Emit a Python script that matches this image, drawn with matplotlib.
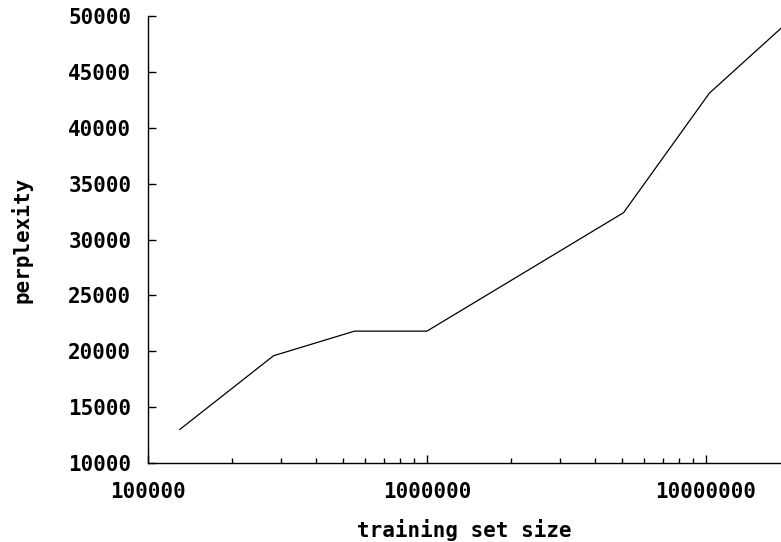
import matplotlib
matplotlib.use('Agg')
import matplotlib.pyplot as plt
from matplotlib.ticker import LogLocator, NullFormatter, FixedLocator

# data
sizes = [130000, 282000, 550000, 1000000, 5070000, 10300000, 18600000]
perplexity = [13000, 19600, 21800, 21800, 32400, 43100, 48900]
xticks = [100000, 1000000, 10000000]
yticks = [10000, 15000, 20000, 25000, 30000, 35000, 40000, 45000, 50000]

plt.rcParams['font.family'] = ['DejaVu Sans Mono']
plt.rcParams['font.weight'] = 'bold'

fig = plt.figure(figsize=(7.81, 5.42), dpi=100)
ax = fig.add_axes([148 / 781, 79 / 542, 1 - 148 / 781, 447 / 542])

ax.plot(sizes, perplexity, color='black', linewidth=0.9, clip_on=False)

ax.set_xscale('log')
ax.set_xlim(100000, sizes[-1])
ax.set_ylim(10000, 50000)

ax.xaxis.set_major_locator(FixedLocator(xticks))
ax.set_xticklabels([str(t) for t in xticks])
ax.xaxis.set_minor_locator(LogLocator(base=10, subs=range(2, 10)))
ax.xaxis.set_minor_formatter(NullFormatter())
ax.set_yticks(yticks)
ax.set_yticklabels([str(t) for t in yticks])

for s in ['top', 'right']:
    ax.spines[s].set_visible(False)
for s in ['left', 'bottom']:
    ax.spines[s].set_linewidth(1.0)

ax.tick_params(which='major', direction='in', length=6, width=1.0,
               labelsize=15, pad=12)
ax.tick_params(axis='x', which='major', pad=14)
ax.tick_params(which='minor', direction='in', length=3.5, width=1.0)

ax.set_xlabel('training set size', fontsize=15, fontweight='bold', labelpad=12)
ax.set_ylabel('perplexity', fontsize=15, fontweight='bold', labelpad=26)

fig.savefig('out.png', dpi=100)
